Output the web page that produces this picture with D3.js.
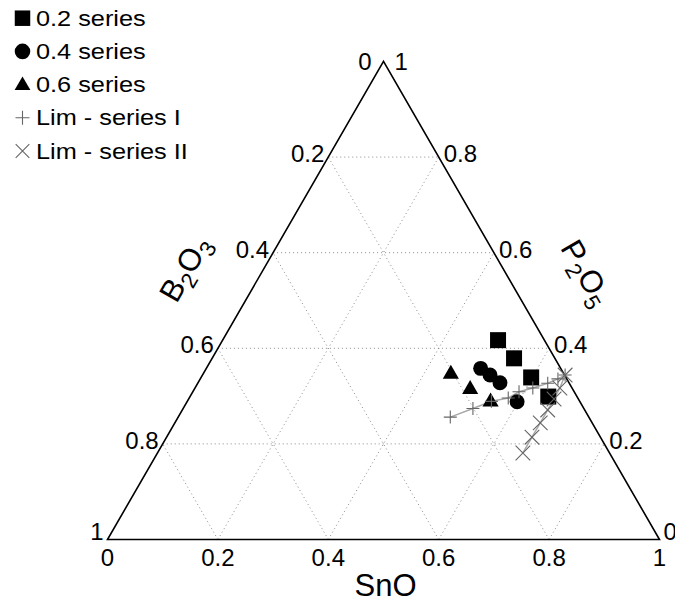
<!DOCTYPE html>
<html>
<head>
<meta charset="utf-8">
<script src="https://cdn.jsdelivr.net/npm/d3@7"></script>
<style>
  html, body { margin: 0; padding: 0; background: #fff; }
  svg { display: block; font-family: "Liberation Sans", Arial, sans-serif; }
</style>
</head>
<body>
<svg id="chart" width="675" height="609"></svg>
<script>
// ---- Data (compositions as fractions: SnO, P2O5; B2O3 = 1 - SnO - P2O5) ----
const tickValues = [0, 0.2, 0.4, 0.6, 0.8, 1];
const tickLabels = ["0", "0.2", "0.4", "0.6", "0.8", "1"];
const gridValues = [0.2, 0.4, 0.6, 0.8];

const legendLabels = ["0.2 series", "0.4 series", "0.6 series", "Lim - series I", "Lim - series II"];

const series02SnO  = [0.499, 0.547, 0.598, 0.649];
const series02P2O5 = [0.417, 0.379, 0.339, 0.299];

const series04SnO  = [0.497, 0.521, 0.547, 0.598];
const series04P2O5 = [0.358, 0.344, 0.328, 0.288];

const series06SnO  = [0.448, 0.499, 0.549];
const series06P2O5 = [0.348, 0.316, 0.290];

const limISnO  = [0.493, 0.525, 0.551, 0.578, 0.591, 0.612, 0.634, 0.648, 0.657];
const limIP2O5 = [0.256, 0.274, 0.289, 0.296, 0.309, 0.317, 0.327, 0.336, 0.344];

const limIISnO  = [0.657, 0.661, 0.662, 0.662, 0.662, 0.662, 0.662];
const limIIP2O5 = [0.344, 0.317, 0.294, 0.271, 0.244, 0.214, 0.181];

// ---- Layout ----
const svg = d3.select("#chart");
const xL = 107.5, xR = 659.5, yB = 539.5;
const H = (xR - xL) * Math.sqrt(3) / 2;
const yT = yB - H;

const xScale = d3.scaleLinear().domain([0, 1]).range([xL, xR]);
const yScale = d3.scaleLinear().domain([0, 1]).range([yB, yT]);
const px = (s, p) => xScale(s + p / 2);
const py = (s, p) => yScale(p);

const zip = (a, b) => a.map((v, i) => ({ s: v, p: b[i] }));

// ---- Grid ----
const gridG = svg.append("g")
  .attr("stroke", "#8c8c8c").attr("stroke-width", 1)
  .attr("stroke-dasharray", "1,3").attr("fill", "none");
gridValues.forEach(v => {
  const segs = [
    [[0, v], [1 - v, v]],          // constant P2O5
    [[v, 0], [v, 1 - v]],          // constant SnO
    [[1 - v, 0], [0, 1 - v]]       // constant B2O3
  ];
  segs.forEach(([a, b]) => {
    gridG.append("line")
      .attr("x1", px(a[0], a[1])).attr("y1", py(a[0], a[1]))
      .attr("x2", px(b[0], b[1])).attr("y2", py(b[0], b[1]));
  });
});

// ---- Triangle outline ----
const corners = [[0, 0], [1, 0], [0, 1]];
svg.append("path")
  .attr("d", d3.line()(corners.map(c => [px(c[0], c[1]), py(c[0], c[1])])) + "Z")
  .attr("fill", "none").attr("stroke", "#000").attr("stroke-width", 1.6)
  .attr("stroke-linejoin", "miter");

// ---- Tick labels ----
const tickFont = 24;
const tg = svg.append("g").attr("font-size", tickFont).attr("fill", "#000");
// Bottom (SnO)
tickValues.forEach((v, i) => {
  tg.append("text").attr("x", px(v, 0)).attr("y", yB + 26)
    .attr("text-anchor", "middle").text(tickLabels[i]);
});
// Left (B2O3): 0 at top, 1 at bottom-left
tickValues.forEach((v, i) => {
  const p = 1 - v;
  let dx = -4, dy = 5;
  if (i === 0) { dx = -12; dy = 9; }
  if (i === tickValues.length - 1) { dx = -4; dy = 0; }
  tg.append("text").attr("x", px(0, p) + dx).attr("y", py(0, p) + dy)
    .attr("text-anchor", "end").text(tickLabels[i]);
});
// Right (P2O5): 0 at bottom-right, 1 at top
tickValues.forEach((v, i) => {
  let dx = 5, dy = 5;
  if (i === tickValues.length - 1) { dx = 11; dy = 9; }
  if (i === 0) { dx = 4; dy = 0; }
  tg.append("text").attr("x", px(1 - v, v) + dx).attr("y", py(1 - v, v) + dy)
    .attr("text-anchor", "start").text(tickLabels[i]);
});

// ---- Axis titles ----
const titleFont = 31;
svg.append("text").attr("x", px(0.5, 0) + 2).attr("y", yB + 56)
  .attr("text-anchor", "middle").attr("font-size", titleFont).text("SnO");

function formula(g, parts) {
  const t = g.append("text").attr("text-anchor", "middle").attr("font-size", titleFont);
  parts.forEach(([txt, sub]) => {
    t.append("tspan").text(txt)
      .attr("font-size", sub ? titleFont * 0.72 : titleFont)
      .attr("baseline-shift", sub ? "-30%" : null);
  });
  return t;
}
const leftMid = [px(0, 0.5), py(0, 0.5)];
const rightMid = [px(0.5, 0.5), py(0.5, 0.5)];
const off = 66;
const gB = svg.append("g")
  .attr("transform", `translate(${leftMid[0] - off * 0.866 - 4},${leftMid[1] - off * 0.5 + 1}) rotate(-60)`);
formula(gB, [["B", false], ["2", true], ["O", false], ["3", true]]).attr("y", 11);
const gP = svg.append("g")
  .attr("transform", `translate(${rightMid[0] + off * 0.866 + 8},${rightMid[1] - off * 0.5 + 5}) rotate(60)`);
formula(gP, [["P", false], ["2", true], ["O", false], ["5", true]]).attr("y", 11);

// ---- Symbol types ----
const plusType = { draw(ctx, size) { const r = Math.sqrt(size) / 2; ctx.moveTo(-r, 0); ctx.lineTo(r, 0); ctx.moveTo(0, -r); ctx.lineTo(0, r); } };
const timesType = { draw(ctx, size) { const r = Math.sqrt(size) / 2 * 0.75; ctx.moveTo(-r, -r); ctx.lineTo(r, r); ctx.moveTo(-r, r); ctx.lineTo(r, -r); } };
const triType = { draw(ctx, size) { const a = Math.sqrt(size); const h = a * 0.866; ctx.moveTo(0, -h * 0.6); ctx.lineTo(a / 2, h * 0.4); ctx.lineTo(-a / 2, h * 0.4); ctx.closePath(); } };

const seriesDefs = [
  { data: zip(series02SnO, series02P2O5), type: d3.symbolSquare, size: 256, fill: "#000", stroke: "none", line: false },
  { data: zip(series04SnO, series04P2O5), type: d3.symbolCircle, size: 175, fill: "#000", stroke: "none", line: false },
  { data: zip(series06SnO, series06P2O5), type: triType, size: 260, fill: "#000", stroke: "none", line: false },
  { data: zip(limISnO, limIP2O5), type: plusType, size: 169, fill: "none", stroke: "#666", line: true },
  { data: zip(limIISnO, limIIP2O5), type: timesType, size: 380, fill: "none", stroke: "#666", line: true }
];

// Series markers and connecting lines
const lineGen = d3.line().x(d => px(d.s, d.p)).y(d => py(d.s, d.p));
seriesDefs.forEach(sd => {
  if (sd.line) {
    svg.append("path").attr("d", lineGen(sd.data))
      .attr("fill", "none").attr("stroke", "#a8a8a8").attr("stroke-width", 1.5);
  }
});
seriesDefs.forEach(sd => {
  svg.append("g").selectAll("path").data(sd.data).join("path")
    .attr("transform", d => `translate(${px(d.s, d.p)},${py(d.s, d.p)})`)
    .attr("d", d3.symbol().type(sd.type).size(sd.size)())
    .attr("fill", sd.fill).attr("stroke", sd.stroke).attr("stroke-width", 1.1);
});

// ---- Legend ----
const legFont = 22;
const legSizes = [240, 190, 250, 196, 330];
const lg = svg.append("g");
legendLabels.forEach((lab, i) => {
  const sd = seriesDefs[i];
  const base = 25.7 + i * 33.2;
  lg.append("path").attr("transform", `translate(22.5,${base - 7.5})`)
    .attr("d", d3.symbol().type(sd.type).size(legSizes[i])())
    .attr("fill", sd.fill).attr("stroke", sd.stroke).attr("stroke-width", 1.1);
  lg.append("text").attr("x", 36).attr("y", base).attr("font-size", legFont).text(lab)
    .each(function () {
      const w = this.getComputedTextLength();
      d3.select(this).attr("textLength", w * 1.15).attr("lengthAdjust", "spacingAndGlyphs");
    });
});
</script>
</body>
</html>
